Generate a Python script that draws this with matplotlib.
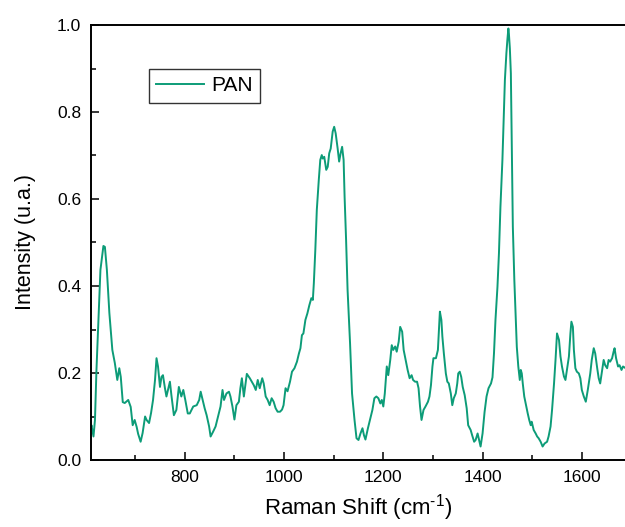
import matplotlib
matplotlib.use("Agg")
import matplotlib.pyplot as plt
from matplotlib.ticker import MultipleLocator

plt.rcParams['font.family'] = ['Liberation Sans', 'DejaVu Sans']
plt.rcParams['mathtext.fontset'] = 'custom'
plt.rcParams['mathtext.rm'] = 'Liberation Sans'
plt.rcParams['mathtext.it'] = 'Liberation Sans:italic'
plt.rcParams['mathtext.bf'] = 'Liberation Sans:bold'

raman_shift = [611, 612, 616, 619, 622, 626, 630, 636, 639, 643, 648, 654, 659, 664, 668, 671, 675, 679, 686, 691,
               695, 699, 703, 706, 711, 715, 720, 723, 728, 732, 736, 740, 743, 746, 750, 753, 756, 760, 763, 766,
               770, 773, 778, 783, 788, 793, 797, 801, 806, 810, 817, 824, 829, 832, 836, 840, 844, 849, 852, 857,
               862, 867, 872, 876, 879, 884, 889, 892, 896, 900, 904, 909, 912, 915, 919, 923, 925, 931, 935, 939,
               943, 947, 951, 956, 959, 963, 967, 971, 975, 979, 983, 987, 992, 996, 999, 1003, 1007, 1012, 1016, 1021,
               1026, 1030, 1033, 1036, 1039, 1043, 1047, 1051, 1055, 1058, 1060, 1063, 1066, 1070, 1073, 1076, 1078,
               1081, 1085, 1088, 1091, 1094, 1098, 1101, 1104, 1108, 1111, 1114, 1117, 1120, 1122, 1125, 1128, 1133,
               1137, 1142, 1146, 1150, 1154, 1158, 1161, 1164, 1169, 1173, 1178, 1182, 1186, 1190, 1194, 1197, 1200,
               1203, 1207, 1210, 1214, 1217, 1220, 1224, 1227, 1231, 1234, 1238, 1241, 1245, 1249, 1253, 1257, 1260,
               1264, 1268, 1271, 1274, 1277, 1281, 1285, 1290, 1293, 1296, 1299, 1301, 1306, 1310, 1312, 1314, 1317,
               1319, 1322, 1326, 1329, 1332, 1336, 1339, 1342, 1346, 1349, 1351, 1354, 1357, 1360, 1364, 1368, 1371,
               1376, 1379, 1383, 1386, 1390, 1393, 1396, 1400, 1404, 1408, 1412, 1417, 1420, 1423, 1426, 1430, 1433,
               1436, 1440, 1443, 1445, 1448, 1450, 1452, 1453, 1455, 1457, 1459, 1461, 1464, 1467, 1469, 1472, 1475,
               1477, 1479, 1481, 1484, 1488, 1491, 1494, 1497, 1499, 1503, 1507, 1510, 1513, 1517, 1521, 1525, 1530,
               1533, 1537, 1540, 1544, 1547, 1550, 1554, 1557, 1560, 1564, 1567, 1570, 1574, 1577, 1579, 1582, 1584,
               1587, 1590, 1594, 1597, 1600, 1604, 1608, 1612, 1617, 1620, 1624, 1627, 1631, 1634, 1637, 1641, 1644,
               1647, 1651, 1654, 1657, 1661, 1664, 1666, 1669, 1673, 1676, 1680, 1683, 1687]

intensity = [0.075, 0.080, 0.054, 0.092, 0.207, 0.320, 0.437, 0.492, 0.490, 0.437, 0.338, 0.253, 0.223, 0.184, 0.211,
             0.191, 0.133, 0.131, 0.138, 0.122, 0.080, 0.092, 0.076, 0.060, 0.042, 0.062, 0.100, 0.092, 0.085, 0.108,
             0.138, 0.184, 0.234, 0.215, 0.168, 0.191, 0.195, 0.165, 0.146, 0.161, 0.180, 0.149, 0.103, 0.115, 0.168,
             0.146, 0.161, 0.138, 0.107, 0.107, 0.123, 0.126, 0.138, 0.157, 0.138, 0.119, 0.103, 0.077, 0.054, 0.065,
             0.077, 0.100, 0.123, 0.161, 0.138, 0.153, 0.157, 0.146, 0.123, 0.093, 0.126, 0.134, 0.165, 0.188, 0.146,
             0.180, 0.198, 0.188, 0.180, 0.172, 0.161, 0.184, 0.165, 0.188, 0.176, 0.146, 0.138, 0.126, 0.142, 0.134,
             0.119, 0.111, 0.111, 0.116, 0.126, 0.165, 0.158, 0.180, 0.203, 0.211, 0.226, 0.245, 0.257, 0.287, 0.291,
             0.322, 0.337, 0.356, 0.372, 0.368, 0.406, 0.483, 0.575, 0.644, 0.690, 0.701, 0.693, 0.697, 0.667, 0.674,
             0.705, 0.716, 0.755, 0.766, 0.751, 0.716, 0.686, 0.705, 0.720, 0.690, 0.605, 0.506, 0.391, 0.268, 0.153,
             0.092, 0.050, 0.046, 0.061, 0.073, 0.057, 0.047, 0.073, 0.092, 0.115, 0.142, 0.146, 0.142, 0.130, 0.138,
             0.123, 0.153, 0.215, 0.195, 0.230, 0.264, 0.253, 0.261, 0.249, 0.272, 0.306, 0.295, 0.253, 0.230, 0.207,
             0.188, 0.195, 0.184, 0.180, 0.180, 0.165, 0.123, 0.092, 0.115, 0.123, 0.134, 0.146, 0.172, 0.215, 0.234,
             0.234, 0.253, 0.299, 0.341, 0.322, 0.284, 0.245, 0.199, 0.180, 0.176, 0.153, 0.126, 0.142, 0.153, 0.176,
             0.199, 0.203, 0.191, 0.168, 0.149, 0.119, 0.080, 0.069, 0.057, 0.042, 0.046, 0.061, 0.046, 0.031, 0.061,
             0.110, 0.146, 0.165, 0.176, 0.190, 0.245, 0.322, 0.398, 0.475, 0.582, 0.690, 0.797, 0.874, 0.935, 0.966,
             0.992, 0.981, 0.946, 0.889, 0.705, 0.536, 0.414, 0.322, 0.260, 0.215, 0.184, 0.207, 0.199, 0.176, 0.146,
             0.123, 0.107, 0.092, 0.080, 0.088, 0.069, 0.061, 0.054, 0.050, 0.042, 0.031, 0.038, 0.042, 0.054, 0.077,
             0.115, 0.176, 0.230, 0.291, 0.276, 0.238, 0.215, 0.192, 0.184, 0.207, 0.238, 0.291, 0.318, 0.306, 0.253,
             0.211, 0.203, 0.199, 0.188, 0.161, 0.146, 0.134, 0.161, 0.199, 0.230, 0.257, 0.245, 0.211, 0.188, 0.176,
             0.207, 0.230, 0.218, 0.211, 0.230, 0.226, 0.234, 0.249, 0.257, 0.234, 0.215, 0.218, 0.207, 0.215, 0.212]

series_label = "PAN"
x_ticks = [800, 1000, 1200, 1400, 1600]
y_ticks = [0.0, 0.2, 0.4, 0.6, 0.8, 1.0]

fig = plt.figure(figsize=(6.25, 5.27), dpi=100)
ax = fig.add_axes([91/625, 1 - 460/527, 1 - 91/625, 435/527])

ax.plot(raman_shift, intensity, color="#0d9c78", lw=1.4, label=series_label)

ax.set_xlim(611, 1687)
ax.set_ylim(0.0, 1.0)
ax.set_xticks(x_ticks)
ax.set_yticks(y_ticks)
ax.set_yticklabels([f"{v:.1f}" for v in y_ticks])
ax.xaxis.set_minor_locator(MultipleLocator(100))
ax.yaxis.set_minor_locator(MultipleLocator(0.1))
ax.tick_params(which="major", direction="in", length=6, width=1.1, labelsize=12.5, pad=7)
ax.tick_params(which="minor", direction="in", length=3.5, width=1.1)
ax.tick_params(top=False, right=False)
for s in ["left", "bottom", "top"]:
    ax.spines[s].set_linewidth(1.4)
ax.spines["right"].set_visible(False)

ax.set_xlabel(r"Raman Shift (cm$^{\text{-1}}$)", fontsize=16, labelpad=5)
ax.set_ylabel("Intensity (u.a.)", fontsize=15.5, labelpad=15)

leg = ax.legend(loc="upper left", bbox_to_anchor=(58/534, 391/435), borderaxespad=0,
                fontsize=15, handlelength=2.3, handletextpad=0.35, borderpad=0.35,
                fancybox=False, framealpha=1, edgecolor="#333333")
leg.get_frame().set_linewidth(1.0)

fig.savefig("out.png", dpi=100)
